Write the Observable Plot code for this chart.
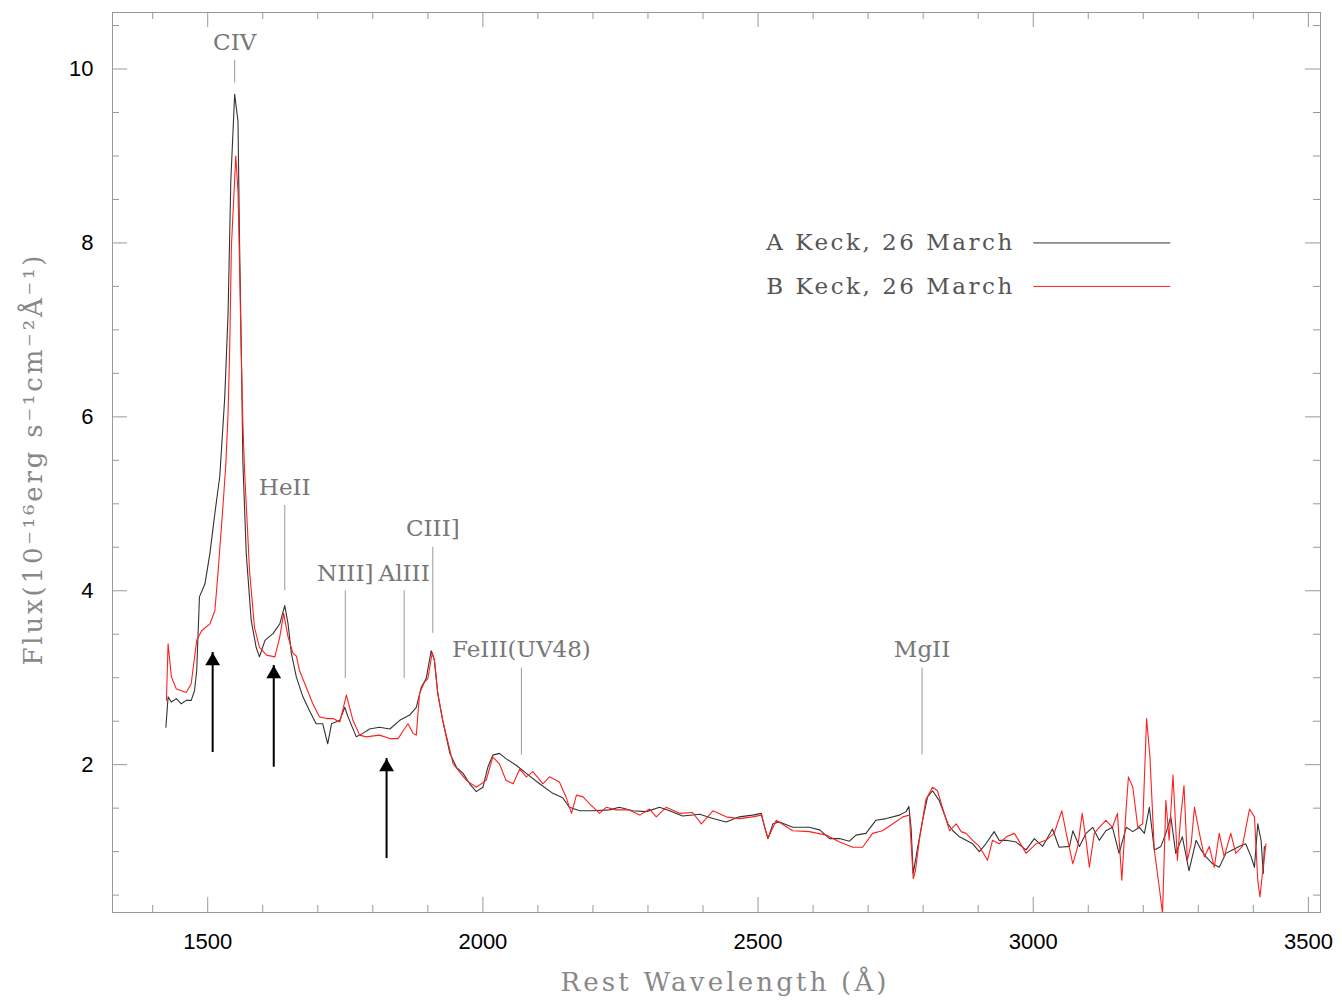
<!DOCTYPE html>
<html><head><meta charset="utf-8">
<script src="https://cdn.jsdelivr.net/npm/d3@7"></script>
<script src="https://cdn.jsdelivr.net/npm/@observablehq/plot@0.6"></script>
<style>body{margin:0;background:#fff}</style>
</head><body><div id="chart"></div>
<script>
// Spectrum A (Keck, 26 March) — rest wavelength (Å) and flux
const waveA = [1424,1428,1434,1443,1452,1461,1470,1476,1480,1485,1495,1504,1513,1522,1531,1537,1542,1549,1555,1558,1561,1564,1570,1579,1588,1594,1604,1619,1631,1640,1646,1652,1661,1673,1685,1697,1709,1718,1725,1740,1749,1755,1770,1782,1794,1812,1831,1849,1867,1879,1888,1897,1906,1912,1918,1927,1940,1952,1964,1976,1988,2000,2009,2018,2030,2042,2061,2079,2103,2127,2145,2157,2176,2200,2230,2248,2272,2297,2321,2339,2363,2394,2418,2442,2466,2490,2506,2512,2518,2527,2539,2563,2593,2612,2630,2648,2666,2678,2696,2714,2733,2757,2769,2774,2778,2782,2790,2799,2808,2817,2829,2845,2854,2866,2878,2890,2902,2914,2929,2938,2951,2969,2987,3002,3017,3035,3047,3066,3072,3084,3096,3108,3120,3132,3144,3156,3169,3181,3193,3202,3211,3220,3232,3241,3250,3259,3271,3283,3296,3305,3314,3326,3338,3350,3362,3374,3386,3396,3402,3408,3414,3418,3420];
const fluxA = [2.43,2.78,2.72,2.76,2.70,2.74,2.74,2.85,3.08,3.93,4.08,4.43,4.89,5.32,6.23,7.19,8.72,9.71,9.40,7.95,6.80,5.46,4.43,3.66,3.35,3.24,3.43,3.51,3.62,3.83,3.62,3.28,3.01,2.78,2.62,2.47,2.47,2.24,2.47,2.51,2.66,2.55,2.32,2.36,2.41,2.43,2.41,2.51,2.57,2.66,2.89,2.99,3.31,3.20,2.82,2.51,2.13,1.97,1.90,1.78,1.69,1.74,1.97,2.11,2.13,2.07,1.99,1.90,1.78,1.67,1.62,1.51,1.47,1.47,1.48,1.51,1.47,1.46,1.51,1.47,1.41,1.43,1.38,1.34,1.40,1.42,1.44,1.28,1.15,1.32,1.34,1.28,1.28,1.25,1.15,1.15,1.12,1.19,1.21,1.36,1.38,1.42,1.46,1.52,1.28,0.75,1.05,1.36,1.63,1.70,1.59,1.32,1.24,1.17,1.13,1.09,1.00,1.09,1.23,1.13,1.13,1.11,1.02,1.15,1.06,1.26,1.05,1.06,1.24,1.06,1.21,1.28,1.13,1.24,1.28,0.98,1.28,1.23,1.28,1.21,1.51,1.02,1.06,1.21,1.40,0.98,1.17,0.78,1.13,1.02,0.94,0.86,0.82,0.98,1.02,1.06,1.09,0.94,0.82,1.32,1.13,0.75,1.06];

// Spectrum B (Keck, 26 March)
const waveB = [1425,1428,1434,1443,1452,1461,1470,1480,1489,1504,1513,1519,1528,1533,1537,1540,1543,1551,1555,1558,1561,1564,1567,1576,1585,1594,1607,1622,1631,1638,1646,1655,1661,1667,1679,1691,1703,1716,1728,1740,1752,1764,1776,1788,1812,1831,1846,1855,1864,1873,1879,1885,1894,1900,1908,1912,1918,1927,1946,1970,1988,2006,2018,2030,2042,2055,2067,2079,2091,2109,2121,2139,2151,2161,2170,2182,2194,2212,2224,2242,2266,2285,2303,2315,2333,2357,2381,2397,2418,2442,2466,2490,2506,2518,2533,2563,2593,2624,2648,2672,2690,2708,2726,2745,2763,2775,2782,2786,2793,2805,2817,2826,2835,2848,2860,2869,2878,2890,2902,2917,2926,2938,2951,2966,2987,3005,3023,3038,3052,3060,3072,3081,3089,3096,3102,3111,3120,3132,3144,3153,3161,3169,3173,3181,3190,3199,3206,3212,3220,3229,3235,3241,3247,3254,3262,3268,3274,3280,3287,3293,3302,3311,3320,3329,3338,3347,3359,3368,3380,3393,3402,3408,3412,3417,3423];
const fluxB = [2.74,3.39,3.01,2.87,2.85,2.83,2.93,3.43,3.54,3.62,3.77,4.23,5.00,5.46,6.04,6.80,7.95,9.00,8.60,7.70,6.70,5.90,5.38,4.23,3.58,3.35,3.26,3.24,3.47,3.74,3.47,3.28,3.25,3.08,2.89,2.70,2.55,2.53,2.53,2.49,2.80,2.51,2.34,2.32,2.34,2.30,2.30,2.39,2.47,2.36,2.34,2.82,2.95,2.99,3.29,3.20,2.82,2.51,2.01,1.82,1.74,1.82,2.09,2.01,1.82,1.78,1.95,1.86,1.92,1.78,1.86,1.80,1.63,1.44,1.65,1.63,1.55,1.44,1.51,1.48,1.48,1.42,1.49,1.40,1.51,1.44,1.45,1.32,1.47,1.40,1.38,1.40,1.42,1.15,1.36,1.24,1.23,1.19,1.11,1.05,1.05,1.21,1.24,1.32,1.40,1.42,0.69,0.78,1.13,1.60,1.74,1.70,1.51,1.24,1.32,1.23,1.21,1.13,1.06,0.90,1.13,1.09,1.17,1.21,0.98,1.09,1.13,1.21,1.47,1.21,0.86,1.06,1.44,1.13,0.82,1.21,1.28,1.36,1.28,1.44,0.67,1.51,1.86,1.74,1.28,1.32,2.53,2.10,1.02,0.59,0.29,1.59,1.13,1.88,0.90,1.40,1.76,0.90,1.09,1.51,1.21,0.94,1.06,0.82,1.21,0.94,1.21,0.98,1.06,1.49,1.40,0.67,0.48,0.78,1.09];

// Axis ticks
const xMajor = [1500, 2000, 2500, 3000, 3500];
const xMinorTicks = [1400,1500,1600,1700,1800,1900,2000,2100,2200,2300,2400,2500,2600,2700,2800,2900,3000,3100,3200,3300,3400,3500];
const yMajor = [2, 4, 6, 8, 10];
const yMinorTicks = [0.5,1,1.5,2,2.5,3,3.5,4,4.5,5,5.5,6,6.5,7,7.5,8,8.5,9,9.5,10,10.5];

// Emission-line identifications
const lineNames = ["CIV", "HeII", "NIII]", "AlIII", "CIII]", "FeIII(UV48)", "MgII"];
const lineWave  = [1549, 1640, 1750, 1857, 1909, 2070, 2798];
const lineTop   = [10.10, 4.98, 4.00, 4.00, 4.50, 3.11, 3.11];
const lineBot   = [9.84, 4.00, 2.99, 2.99, 3.51, 2.11, 2.11];
const labelY    = [10.30, 5.19, 4.20, 4.20, 4.72, 3.32, 3.32];

// Arrows
const arrowWave = [1509, 1620, 1825];
const arrowFrom = [2.14, 1.97, 0.92];
const arrowTo   = [3.29, 3.14, 2.07];

// Legend
const legendLabels = ["A Keck, 26 March", "B Keck, 26 March"];
const legendFlux = [8.0, 7.5];
const legendTextWave = 2515;
const legendLineWave = [3001, 3250];

const xTitle = "Rest Wavelength (\u00C5)";
const yTitle = "Flux(10\u207B\u00B9\u2076erg s\u207B\u00B9cm\u207B\u00B2\u00C5\u207B\u00B9)";

const colA = "#333333", colB = "#ff2020";
const frameCol = "#999999";

const W = 1342, H = 1001, mL = 112, mR = 22, mT = 12, mB = 89;
const xDom = [1327, 3522], yDom = [0.3, 10.65];
const kx = (W - mL - mR) / (xDom[1] - xDom[0]);
const ky = (H - mT - mB) / (yDom[1] - yDom[0]);

const specA = waveA.map((w, i) => ({w, f: fluxA[i]}));
const specB = waveB.map((w, i) => ({w, f: fluxB[i]}));
const lines = lineNames.map((n, i) => ({n, w: lineWave[i], t: lineTop[i], b: lineBot[i], ly: labelY[i]}));
const arrows = arrowWave.map((w, i) => ({w, a: arrowFrom[i], b: arrowTo[i]}));
const legend = legendLabels.map((l, i) => ({l, y: legendFlux[i], c: i === 0 ? colA : colB}));

const tl = (major) => major ? 15 : 7;
const isXMaj = d => xMajor.includes(d);
const isYMaj = d => yMajor.includes(d);

const chart = Plot.plot({
  width: W, height: H,
  marginLeft: mL, marginRight: mR, marginTop: mT, marginBottom: mB,
  style: {fontFamily: "Liberation Sans, Arial, sans-serif", fontSize: "22px", color: "black", background: "white"},
  x: {domain: xDom, label: null},
  y: {domain: yDom, label: null},
  marks: [
    Plot.frame({stroke: frameCol}),
    // inward ticks on all four sides
    Plot.ruleX(xMinorTicks, {x: d => d, y1: yDom[0], y2: d => yDom[0] + tl(isXMaj(d)) / ky, stroke: frameCol}),
    Plot.ruleX(xMinorTicks, {x: d => d, y1: yDom[1], y2: d => yDom[1] - tl(isXMaj(d)) / ky, stroke: frameCol}),
    Plot.ruleY(yMinorTicks, {y: d => d, x1: xDom[0], x2: d => xDom[0] + tl(isYMaj(d)) / kx, stroke: frameCol}),
    Plot.ruleY(yMinorTicks, {y: d => d, x1: xDom[1], x2: d => xDom[1] - tl(isYMaj(d)) / kx, stroke: frameCol}),
    Plot.axisX({ticks: xMajor, tickSize: 0, tickPadding: 21, tickFormat: d => String(d), fontSize: 22, label: null}),
    Plot.axisY({ticks: yMajor, tickSize: 0, tickPadding: 19, tickFormat: d => String(d), fontSize: 22, label: null}),
    // spectra
    Plot.line(specA, {x: "w", y: "f", stroke: colA, strokeWidth: 1.1, clip: true}),
    Plot.line(specB, {x: "w", y: "f", stroke: colB, strokeWidth: 1.1, clip: true}),
    // line identifications
    Plot.ruleX(lines, {x: "w", y1: "b", y2: "t", stroke: frameCol}),
    Plot.text(lines, {x: "w", y: "ly", text: "n", fontFamily: "DejaVu Serif", fontSize: 23, fill: "#777"}),
    // arrows
    Plot.ruleX(arrows, {x: "w", y1: "a", y2: "b", stroke: "black", strokeWidth: 2}),
    Plot.dot(arrows, {x: "w", y: "b", symbol: "triangle", r: 5.5, fill: "black", stroke: null, dy: 8.5}),
    // legend
    Plot.text(legend, {x: legendTextWave, y: "y", text: "l", textAnchor: "start", fontFamily: "DejaVu Serif", fontSize: 23, fill: "#555"}),
    Plot.ruleY(legend, {y: "y", x1: legendLineWave[0], x2: legendLineWave[1], stroke: "c", strokeWidth: 1}),
    // axis titles
    Plot.text([xTitle], {frameAnchor: "bottom", dy: 70, dx: 7, text: d => d, textAnchor: "middle", lineAnchor: "middle", fontFamily: "DejaVu Serif", fontSize: 26, fill: "#888"}),
    Plot.text([yTitle], {frameAnchor: "left", dx: -79, dy: -2, rotate: -90, text: d => d, textAnchor: "middle", lineAnchor: "middle", fontFamily: "DejaVu Serif", fontSize: 26, fill: "#888"})
  ]
});

const stretch = {[xTitle]: 326, [yTitle]: 410, [legendLabels[0]]: 246, [legendLabels[1]]: 246};
d3.select(chart).selectAll("text").each(function() {
  const t = this.textContent;
  if (stretch[t] !== undefined) {
    d3.select(this).attr("textLength", stretch[t]).attr("lengthAdjust", "spacing");
  }
});

document.getElementById("chart").appendChild(chart);
</script>
</body></html>
